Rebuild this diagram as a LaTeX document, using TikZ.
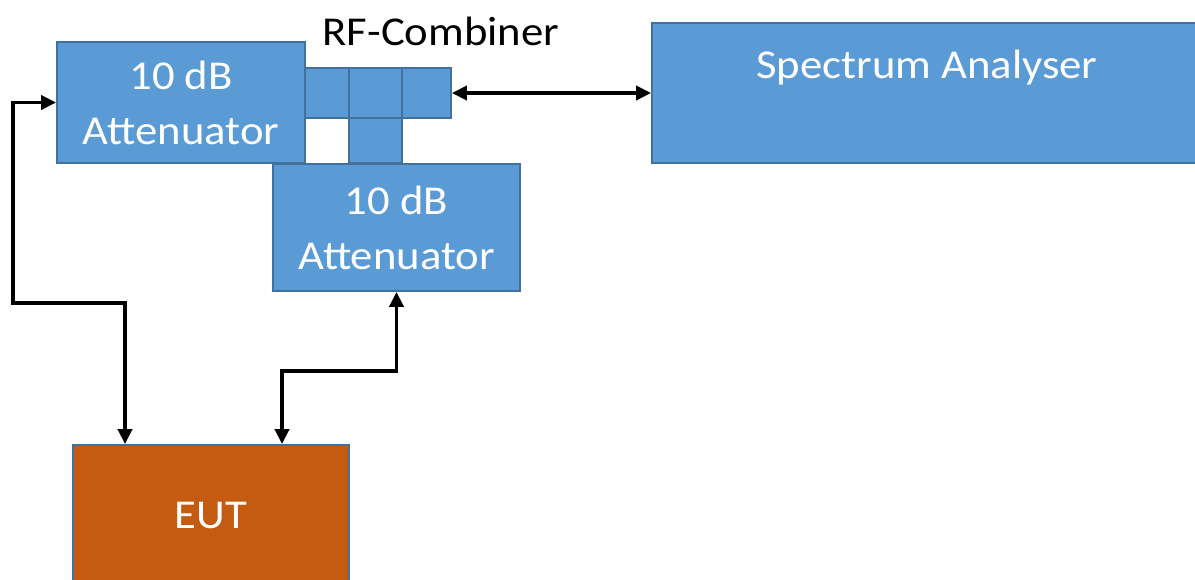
\documentclass[tikz,border=0pt]{standalone}
\usepackage{fontspec}
\setmainfont{Carlito}[FakeStretch=1.09]
\usetikzlibrary{arrows.meta}
\definecolor{boxblue}{HTML}{5B9BD5}
\definecolor{boxedge}{HTML}{41719C}
\definecolor{eutorange}{HTML}{C55A11}
\tikzset{
  blk/.style={draw=boxedge, line width=1.8pt, fill=boxblue, inner sep=0pt,
    text=white, align=center, font=\fontsize{41}{55}\selectfont},
  eutbox/.style={blk, fill=eutorange},
  dbl/.style={line width=3.8pt, {Triangle[length=15pt,width=14pt]}-{Triangle[length=15pt,width=14pt]}},
  lbl/.style={font=\fontsize{41}{55}\selectfont, inner sep=0pt}
}
\begin{document}
\begin{tikzpicture}[x=1pt,y=-1pt]
\clip (0,0) rectangle (1195,579);
\fill[white] (0,0) rectangle (1195,579);
% attenuator 1
\node[blk, minimum width=248pt, minimum height=121pt] (att1) at (181,102.5) {10 dB\\Attenuator};
% combiner cells
\node[blk, minimum width=44pt, minimum height=50pt] (c1) at (327,93) {};
\node[blk, minimum width=53pt, minimum height=50pt] (c2) at (375.5,93) {};
\node[blk, minimum width=49pt, minimum height=50pt] (c3) at (426.5,93) {};
\node[blk, minimum width=53pt, minimum height=45pt] (c4) at (375.5,140.5) {};
\node[lbl, anchor=base] (rfc) at (441,45) {RF-Combiner};
% attenuator 2
\node[blk, minimum width=247pt, minimum height=127pt] (att2) at (396.5,227.5) {10 dB\\Attenuator};
% spectrum analyser
\node[blk, minimum width=600pt, minimum height=140pt] (sa) at (952,93) {};
\node[lbl, anchor=base, text=white] (satext) at (927,78) {Spectrum Analyser};
% EUT
\node[eutbox, minimum width=276pt, minimum height=140pt] (eut) at (211,515) {EUT};
% connectors
\coordinate (a1) at (13,303);
\coordinate (a2) at (125,303);
\coordinate (b1) at (282,371);
\draw[dbl] (c3.east) -- (sa.west);
\draw[dbl] (att1.west) -| (a1) -- (a2) -- (a2 |- eut.north);
\draw[dbl] (att2.south) |- (b1) -- (b1 |- eut.north);
\end{tikzpicture}
\end{document}
